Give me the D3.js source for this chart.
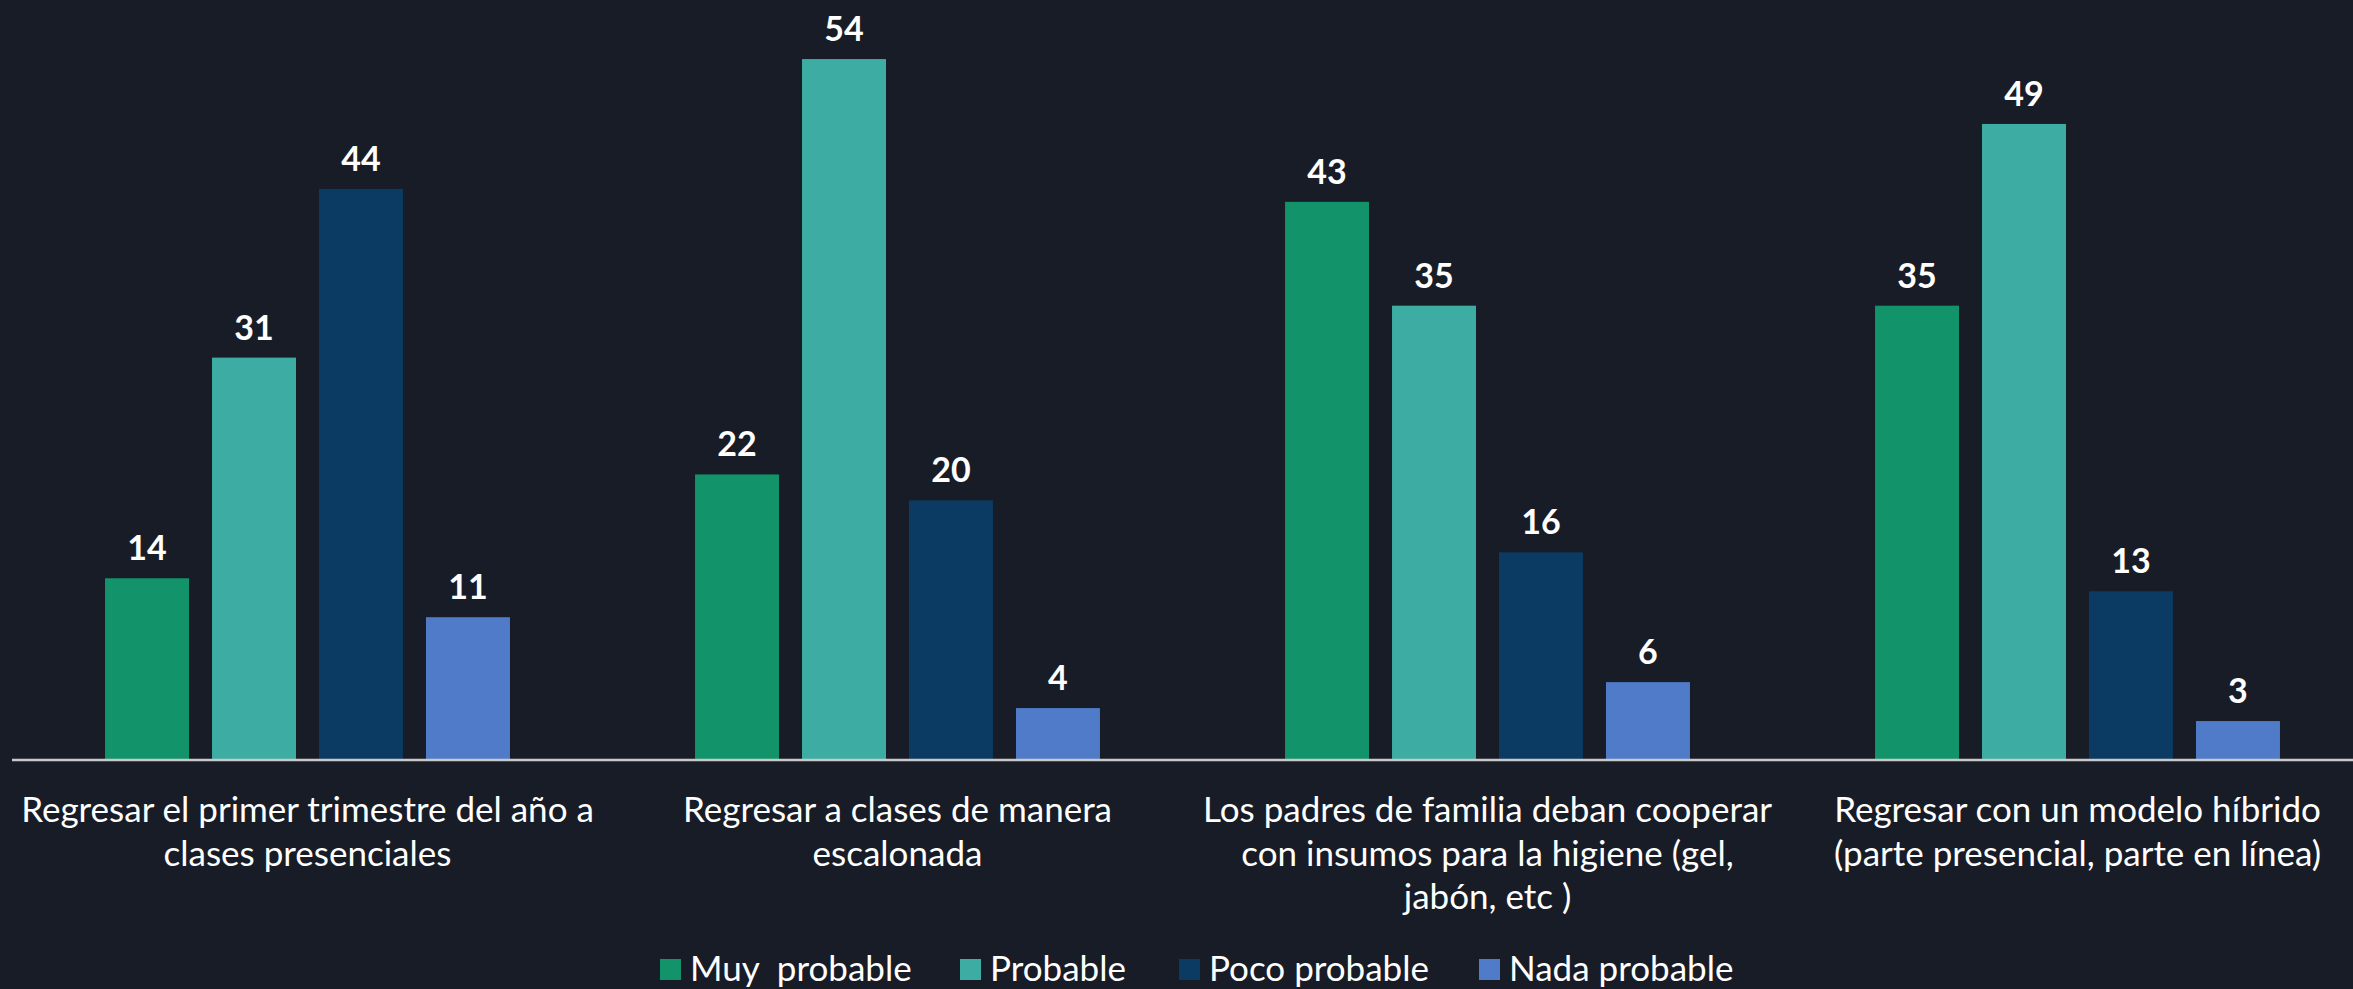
<!DOCTYPE html>
<html>
<head>
<meta charset="utf-8">
<script src="https://cdn.jsdelivr.net/npm/d3@7"></script>
<style>
  html, body { margin: 0; padding: 0; background: #181c27; overflow: hidden; }
  svg { display: block; }
</style>
</head>
<body>
<svg id="chart" width="2353" height="989"></svg>
<script>
const categories = [
  "Regresar el primer trimestre del año a\nclases presenciales",
  "Regresar a clases de manera\nescalonada",
  "Los padres de familia deban cooperar\ncon insumos para la higiene (gel,\njabón, etc )",
  "Regresar con un modelo híbrido\n(parte presencial, parte en línea)"
];
const seriesNames = ["Muy  probable", "Probable", "Poco probable", "Nada probable"];
const muyProbable = [14, 22, 43, 35];
const probable = [31, 54, 35, 49];
const pocoProbable = [44, 20, 16, 13];
const nadaProbable = [11, 4, 6, 3];
const seriesValues = [muyProbable, probable, pocoProbable, nadaProbable];
const colors = ["#12936a", "#3dada3", "#0b3a62", "#507bc8"];

const W = 2353, H = 989;
const svg = d3.select("#chart");
svg.append("rect").attr("width", W).attr("height", H).attr("fill", "#181c27");

const baseY = 760;
const x0 = d3.scaleBand().domain(d3.range(categories.length)).range([12.5, 2372.5]).paddingInner(0).paddingOuter(0);
const x1 = d3.scaleBand().domain(d3.range(seriesNames.length)).range([0, x0.bandwidth()]).paddingInner(0.215).paddingOuter(0.865);
const y = d3.scaleLinear().domain([0, 58.55]).range([baseY, 0]);

const data = [];
categories.forEach((c, ci) => {
  seriesNames.forEach((s, si) => {
    data.push({ ci, si, v: seriesValues[si][ci] });
  });
});

const g = svg.append("g");
g.selectAll("rect.bar").data(data).join("rect")
  .attr("class", "bar")
  .attr("x", d => x0(d.ci) + x1(d.si))
  .attr("width", x1.bandwidth())
  .attr("y", d => y(d.v))
  .attr("height", d => baseY - y(d.v))
  .attr("fill", d => colors[d.si]);

g.selectAll("text.val").data(data).join("text")
  .attr("class", "val")
  .attr("x", d => x0(d.ci) + x1(d.si) + x1.bandwidth() / 2)
  .attr("y", d => y(d.v) - 18)
  .attr("text-anchor", "middle")
  .attr("fill", "#ffffff")
  .attr("font-family", "Lato, 'Open Sans', sans-serif")
  .attr("font-weight", "bold")
  .attr("font-size", 34)
  .text(d => d.v);

// axis
const axis = d3.axisBottom(x0).tickSize(0).tickSizeOuter(0).tickFormat("");
const ax = svg.append("g").attr("transform", `translate(0,${baseY})`).call(axis);
ax.select(".domain").attr("stroke", "#c9c9c9").attr("stroke-width", 2.5)
  .attr("d", `M12,0H${W}`);

// category labels
categories.forEach((c, ci) => {
  const lines = c.split("\n");
  const t = svg.append("text")
    .attr("text-anchor", "middle")
    .attr("fill", "#ffffff")
    .attr("font-family", "Lato, 'Open Sans', sans-serif")
    .attr("font-size", 35);
  lines.forEach((ln, li) => {
    t.append("tspan")
      .attr("x", x0(ci) + x0.bandwidth() / 2)
      .attr("y", 822 + li * 43.5)
      .text(ln);
  });
});

// legend
const legendX = [660, 960, 1179, 1479];
const lg = svg.append("g");
seriesNames.forEach((s, si) => {
  lg.append("rect")
    .attr("x", legendX[si]).attr("y", 959)
    .attr("width", 21).attr("height", 21)
    .attr("fill", colors[si]);
  lg.append("text")
    .attr("x", legendX[si] + 30).attr("y", 981)
    .attr("fill", "#ffffff")
    .attr("font-family", "Lato, 'Open Sans', sans-serif")
    .attr("font-size", 35)
    .attr("xml:space", "preserve")
    .style("white-space", "pre")
    .text(s);
});
</script>
</body>
</html>
